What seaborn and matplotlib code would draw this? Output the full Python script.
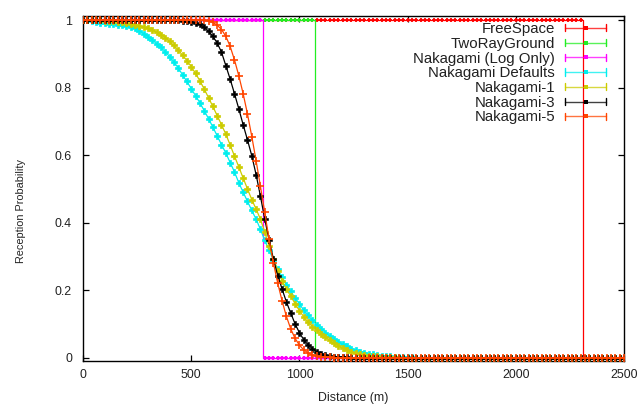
import matplotlib
matplotlib.use("Agg")
import matplotlib.pyplot as plt
import seaborn as sns
from matplotlib.lines import Line2D
from matplotlib.legend_handler import HandlerBase
from matplotlib.ticker import FuncFormatter
from matplotlib import font_manager

# ---------------- data ----------------
distance = list(range(0, 2501, 20))  # metres, 126 samples

free_space = [
    1, 1, 1, 1, 1, 1, 1, 1, 1, 1,
    1, 1, 1, 1, 1, 1, 1, 1, 1, 1,
    1, 1, 1, 1, 1, 1, 1, 1, 1, 1,
    1, 1, 1, 1, 1, 1, 1, 1, 1, 1,
    1, 1, 1, 1, 1, 1, 1, 1, 1, 1,
    1, 1, 1, 1, 1, 1, 1, 1, 1, 1,
    1, 1, 1, 1, 1, 1, 1, 1, 1, 1,
    1, 1, 1, 1, 1, 1, 1, 1, 1, 1,
    1, 1, 1, 1, 1, 1, 1, 1, 1, 1,
    1, 1, 1, 1, 1, 1, 1, 1, 1, 1,
    1, 1, 1, 1, 1, 1, 1, 1, 1, 1,
    1, 1, 1, 1, 1, 1, 0, 0, 0, 0,
    0, 0, 0, 0, 0, 0,
]
two_ray_ground = [
    1, 1, 1, 1, 1, 1, 1, 1, 1, 1,
    1, 1, 1, 1, 1, 1, 1, 1, 1, 1,
    1, 1, 1, 1, 1, 1, 1, 1, 1, 1,
    1, 1, 1, 1, 1, 1, 1, 1, 1, 1,
    1, 1, 1, 1, 1, 1, 1, 1, 1, 1,
    1, 1, 1, 1, 0, 0, 0, 0, 0, 0,
    0, 0, 0, 0, 0, 0, 0, 0, 0, 0,
    0, 0, 0, 0, 0, 0, 0, 0, 0, 0,
    0, 0, 0, 0, 0, 0, 0, 0, 0, 0,
    0, 0, 0, 0, 0, 0, 0, 0, 0, 0,
    0, 0, 0, 0, 0, 0, 0, 0, 0, 0,
    0, 0, 0, 0, 0, 0, 0, 0, 0, 0,
    0, 0, 0, 0, 0, 0,
]
nakagami_log_only = [
    1, 1, 1, 1, 1, 1, 1, 1, 1, 1,
    1, 1, 1, 1, 1, 1, 1, 1, 1, 1,
    1, 1, 1, 1, 1, 1, 1, 1, 1, 1,
    1, 1, 1, 1, 1, 1, 1, 1, 1, 1,
    1, 1, 0, 0, 0, 0, 0, 0, 0, 0,
    0, 0, 0, 0, 0, 0, 0, 0, 0, 0,
    0, 0, 0, 0, 0, 0, 0, 0, 0, 0,
    0, 0, 0, 0, 0, 0, 0, 0, 0, 0,
    0, 0, 0, 0, 0, 0, 0, 0, 0, 0,
    0, 0, 0, 0, 0, 0, 0, 0, 0, 0,
    0, 0, 0, 0, 0, 0, 0, 0, 0, 0,
    0, 0, 0, 0, 0, 0, 0, 0, 0, 0,
    0, 0, 0, 0, 0, 0,
]
nakagami_defaults = [
    1.0, .999, .998, .995, .992, .990, .989, .988, .986, .985,
    .983, .980, .975, .968, .960, .951, .941, .930, .919, .906,
    .892, .876, .858, .838, .818, .797, .776, .755, .732, .708,
    .683, .657, .631, .606, .578, .550, .518, .490, .463, .436,
    .410, .380, .347, .318, .289, .262, .238, .216, .196, .177,
    .159, .141, .126, .110, .097, .085, .074, .064, .055, .047,
    .040, .033, .027, .022, .018, .015, .012, .010, .008, .006,
    .005, .004, .003, .002, .002, .001, .001, 0, 0, 0,
    0, 0, 0, 0, 0, 0, 0, 0, 0, 0,
    0, 0, 0, 0, 0, 0, 0, 0, 0, 0,
    0, 0, 0, 0, 0, 0, 0, 0, 0, 0,
    0, 0, 0, 0, 0, 0, 0, 0, 0, 0,
    0, 0, 0, 0, 0, 0,
]
nakagami_1 = [
    1.0, 1.0, 1.0, 1.0, .999, .998, .997, .996, .994, .993,
    .991, .989, .986, .982, .979, .975, .970, .964, .957, .948,
    .937, .925, .911, .896, .880, .862, .842, .820, .796, .770,
    .744, .717, .690, .662, .630, .597, .565, .532, .500, .468,
    .440, .410, .372, .330, .292, .258, .228, .203, .182, .160,
    .139, .121, .105, .092, .081, .070, .060, .051, .042, .035,
    .028, .022, .017, .013, .010, .008, .006, .005, .004, .003,
    .002, .001, .001, 0, 0, 0, 0, 0, 0, 0,
    0, 0, 0, 0, 0, 0, 0, 0, 0, 0,
    0, 0, 0, 0, 0, 0, 0, 0, 0, 0,
    0, 0, 0, 0, 0, 0, 0, 0, 0, 0,
    0, 0, 0, 0, 0, 0, 0, 0, 0, 0,
    0, 0, 0, 0, 0, 0,
]
nakagami_3 = [
    1, 1, 1, 1, 1, 1, 1, 1, 1, 1,
    1, 1, 1, 1, 1, 1, 1, 1, 1, 1,
    1, .999, .999, .998, .997, .995, .992, .987, .979, .967,
    .952, .932, .905, .865, .825, .782, .737, .690, .645, .598,
    .542, .478, .410, .348, .292, .243, .203, .165, .132, .100,
    .074, .053, .038, .026, .018, .012, .008, .005, .003, .002,
    .001, .001, 0, 0, 0, 0, 0, 0, 0, 0,
    0, 0, 0, 0, 0, 0, 0, 0, 0, 0,
    0, 0, 0, 0, 0, 0, 0, 0, 0, 0,
    0, 0, 0, 0, 0, 0, 0, 0, 0, 0,
    0, 0, 0, 0, 0, 0, 0, 0, 0, 0,
    0, 0, 0, 0, 0, 0, 0, 0, 0, 0,
    0, 0, 0, 0, 0, 0,
]
nakagami_5 = [
    1, 1, 1, 1, 1, 1, 1, 1, 1, 1,
    1, 1, 1, 1, 1, 1, 1, 1, 1, 1,
    1, 1, 1, 1, 1, 1, 1, 1, .999, .997,
    .993, .985, .972, .952, .922, .882, .835, .782, .722, .655,
    .583, .507, .430, .350, .280, .220, .168, .122, .085, .057,
    .037, .023, .014, .008, .005, .003, .002, .001, 0, 0,
    0, 0, 0, 0, 0, 0, 0, 0, 0, 0,
    0, 0, 0, 0, 0, 0, 0, 0, 0, 0,
    0, 0, 0, 0, 0, 0, 0, 0, 0, 0,
    0, 0, 0, 0, 0, 0, 0, 0, 0, 0,
    0, 0, 0, 0, 0, 0, 0, 0, 0, 0,
    0, 0, 0, 0, 0, 0, 0, 0, 0, 0,
    0, 0, 0, 0, 0, 0,
]

labels = ["FreeSpace", "TwoRayGround", "Nakagami (Log Only)",
          "Nakagami Defaults", "Nakagami-1", "Nakagami-3", "Nakagami-5"]
y_ticks = [0, 0.2, 0.4, 0.6, 0.8, 1.0]
x_ticks = [0, 500, 1000, 1500, 2000, 2500]

# ---------------- style ----------------
sns.set_theme(style="ticks")
plt.rcParams["font.family"] = ["Liberation Sans", "DejaVu Sans"]
plt.rcParams["text.color"] = "#222222"

fig = plt.figure(figsize=(6.43, 4.05), dpi=100)
ax = fig.add_axes([83 / 643, 1 - 361 / 405, 541 / 643, 345 / 405])

styles = [
    # values, color, marker, markersize, mew, drawstyle
    (free_space, "#ff0000", "+", 3.2, 1.3, "steps-mid"),
    (two_ray_ground, "#22ee22", "+", 3.2, 1.3, "steps-mid"),
    (nakagami_log_only, "#ff00ff", "+", 3.2, 1.6, "steps-mid"),
    (nakagami_defaults, "#00eeee", "P", 5.0, 0.5, "default"),
    (nakagami_1, "#cccc00", "P", 5.0, 0.5, "default"),
    (nakagami_3, "#000000", "P", 4.4, 0.4, "default"),
    (nakagami_5, "#ff4500", "+", 5.5, 1.2, "default"),
]

handles = []
for i, (vals, col, mk, ms, mew, ds) in enumerate(styles):
    sns.lineplot(x=distance, y=vals, ax=ax, color=col, linewidth=0.9,
                 marker=mk, markersize=ms, markeredgewidth=mew,
                 markeredgecolor=col, markerfacecolor=col,
                 drawstyle=ds, errorbar=None, legend=False, zorder=2 + i)
    handles.append(Line2D([], [], color=col, marker=mk, markersize=ms,
                          markeredgecolor=col, markerfacecolor=col,
                          markeredgewidth=mew, linewidth=1))


class ErrorLineHandler(HandlerBase):
    def create_artists(self, legend, orig_handle, xdescent, ydescent,
                       width, height, fontsize, trans):
        col = orig_handle.get_color()
        y = height / 2.0 - ydescent
        x0 = -xdescent
        x1 = x0 + width
        cap = 2.6
        arts = [
            Line2D([x0, x1], [y, y], color=col, lw=1.0, alpha=0.75),
            Line2D([x0, x0], [y - cap, y + cap], color=col, lw=1.0),
            Line2D([x1, x1], [y - cap, y + cap], color=col, lw=1.0),
            Line2D([(x0 + x1) / 2], [y], color=col, marker="s",
                   markersize=2.2, markeredgewidth=0, linestyle="none"),
        ]
        for a in arts:
            a.set_transform(trans)
        return arts


leg = ax.legend(handles, labels, loc="upper right",
                bbox_to_anchor=((606 - 83) / 541, (361 - 22) / 345),
                frameon=False, markerfirst=False, fontsize=10.8,
                handlelength=2.73, handletextpad=0.67, labelspacing=0.05,
                borderpad=0, borderaxespad=0,
                handler_map={Line2D: ErrorLineHandler()})
leg.set_zorder(20)

ax.set_xlim(0, 2500)
ax.set_ylim(-0.01, 1.012)
ax.set_xticks(x_ticks)
ax.set_yticks(y_ticks)
ax.yaxis.set_major_formatter(FuncFormatter(lambda v, p: f"{v:g}"))
ax.tick_params(direction="in", length=4, width=0.9, top=True, right=True,
               labelsize=8.9, colors="#000000", labelcolor="#222222")
ax.tick_params(axis="y", pad=8)
ax.tick_params(axis="x", pad=6)
for s in ax.spines.values():
    s.set_linewidth(1.0)
    s.set_color("#000000")

# y label in a narrow face when available (the reference label is condensed)
installed = {f.name for f in font_manager.fontManager.ttflist}
if "Liberation Sans Narrow" in installed:
    ylab_family, ylab_size = ["Liberation Sans Narrow", "DejaVu Sans"], 9.3
else:
    ylab_family, ylab_size = ["Liberation Sans", "DejaVu Sans"], 7.8

ax.set_xlabel("Distance (m)", fontsize=8.9, color="#222222")
ax.set_ylabel("Reception Probability", fontsize=ylab_size, color="#222222",
              family=ylab_family)
ax.xaxis.set_label_coords(0.5, -0.09)
ax.yaxis.set_label_coords(-0.105, 0.435)

fig.savefig("out.png", dpi=100)
